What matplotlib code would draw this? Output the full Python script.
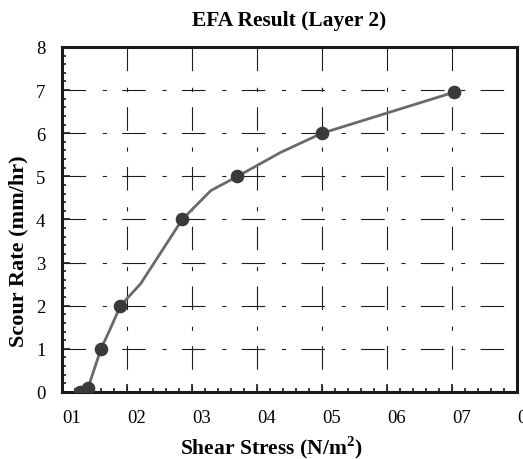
import matplotlib
matplotlib.use("Agg")
import matplotlib.pyplot as plt
from matplotlib.ticker import MultipleLocator

# marker points
shear = [0.28, 0.40, 0.60, 0.90, 1.85, 2.70, 4.00, 6.03]
scour = [0.0, 0.09, 1.0, 2.0, 4.0, 5.0, 6.0, 6.95]

# the drawn curve (has a few bends between markers)
curve_x = [0.28, 0.40, 0.60, 0.73, 0.90, 1.21, 1.85, 2.29, 2.70, 3.37, 4.00, 6.03]
curve_y = [0.0, 0.09, 1.0, 1.42, 2.0, 2.51, 4.0, 4.67, 5.0, 5.56, 6.0, 6.95]

x_labels = ["01", "02", "03", "04", "05", "06", "07", "08"]
y_labels = ["0", "1", "2", "3", "4", "5", "6", "7", "8"]

plt.rcParams['font.family'] = ['Liberation Serif', 'DejaVu Serif']
plt.rcParams['mathtext.fontset'] = 'custom'
plt.rcParams['mathtext.rm'] = 'Liberation Serif'
plt.rcParams['mathtext.bf'] = 'Liberation Serif:bold'
plt.rcParams['lines.scale_dashes'] = False

fig = plt.figure(figsize=(5.23, 4.6), dpi=100)
ax = fig.add_axes([0.1185, 0.1457, 0.8700, 0.7500])

ax.set_xlim(0, 7)
ax.set_ylim(0, 8)

# dash-dot grid, vertical ones start from the top
dash = (0, (17, 12, 3, 11))
ax.hlines(range(1, 8), 0, 7, colors='#1e1e1e', linewidth=0.8, linestyles=[dash])
ax.vlines(range(1, 7), 8, 0, colors='#1e1e1e', linewidth=0.8, linestyles=[dash])

ax.plot(curve_x, curve_y, color='#6a6a6a', linewidth=2.0, zorder=3)
ax.plot(shear, scour, linestyle='none', marker='o', markersize=8.8,
        color='#3a3a3a', zorder=4)

ax.set_xticks(range(0, 8))
ax.set_xticklabels(x_labels, ha='left')
ax.set_yticks(range(0, 9))
ax.set_yticklabels(y_labels)
ax.xaxis.set_minor_locator(MultipleLocator(0.2))
ax.yaxis.set_minor_locator(MultipleLocator(0.2))
ax.tick_params(which='both', direction='in', top=False, right=False,
               color='#1e1e1e', width=1.2)
ax.tick_params(which='major', length=6, labelsize=13.5)
ax.tick_params(axis='x', which='major', pad=12)
ax.tick_params(axis='y', which='major', pad=12)
ax.tick_params(which='minor', length=3)

for s in ax.spines.values():
    s.set_linewidth(2.2)
    s.set_color('#1a1a1a')

fig.text(0.552, 0.954, "EFA Result (Layer 2)", fontsize=15.5, fontweight='bold',
         ha='center', va='center')
ax.set_xlabel(r"Shear Stress (N/m$^\mathbf{2}$)", fontsize=15.5, fontweight='bold')
ax.set_ylabel("Scour Rate (mm/hr)", fontsize=16, fontweight='bold')
ax.yaxis.set_label_coords(-0.073, 0.41)
ax.xaxis.set_label_coords(0.46, -0.12)

fig.savefig("out.png", dpi=100)
